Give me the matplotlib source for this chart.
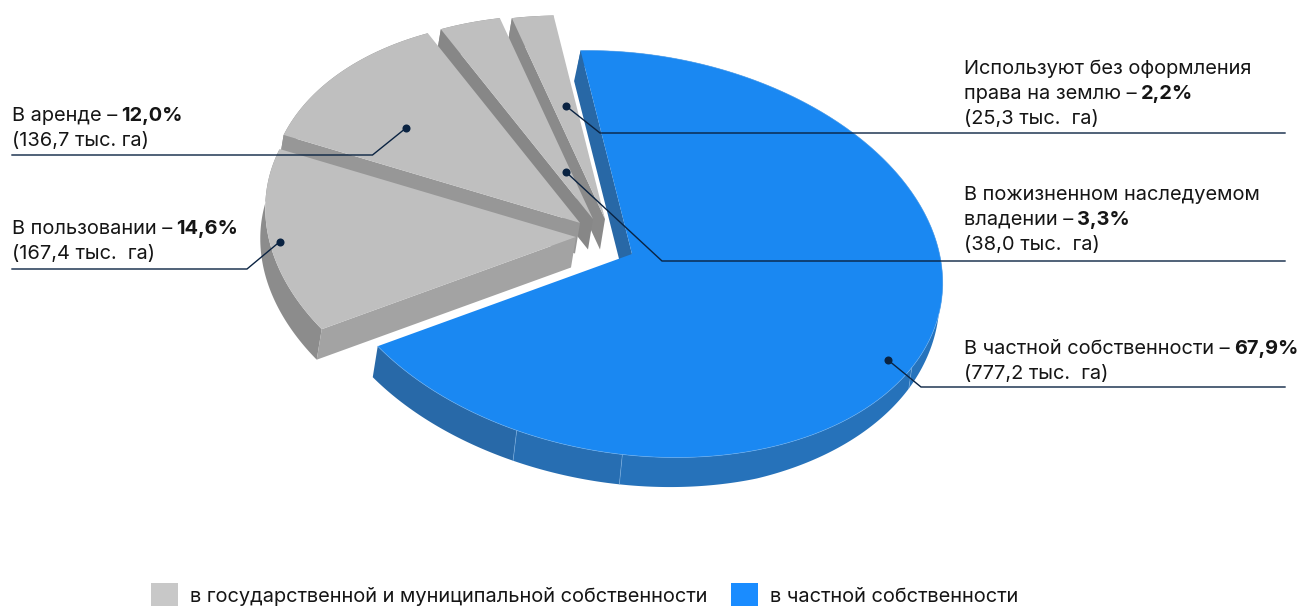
import numpy as np
import matplotlib
matplotlib.use("Agg")
import matplotlib.pyplot as plt
from matplotlib.patches import Polygon, Rectangle

# Shares and areas, clockwise from the top of the private land slice
names = ["В частной собственности", "В пользовании", "В аренде",
         "В пожизненном наследуемом\nвладении", "Используют без оформления\nправа на землю"]
shares = [67.9, 14.6, 12.0, 3.3, 2.2]
areas = [777.2, 167.4, 136.7, 38.0, 25.3]
unit_gaps = ["  ", "  ", " ", "  ", "  "]
legend_labels = ["в государственной и муниципальной собственности", "в частной собственности"]

# Look of the tilted pie, in pixels
center = np.array([632.0, 254.0])
rx, ry = 313.0, 200.0
tilt = np.radians(9.0)
depth = np.array([-5.0, 30.5])
start_angle = -105.3
offsets = [(0, 0), (-56, -17), (-52, -31), (-39, -35), (-27, -35)]
top_colors = ["#1a88f2", "#bfbfbf", "#bfbfbf", "#bfbfbf", "#bfbfbf"]
rim_colors = ["#2673bc", "#8c8c8c", "#8c8c8c", "#8c8c8c", "#8c8c8c"]
side_colors = ["#2868a6", "#a3a3a3", "#979797", "#878787", "#8a8a8a"]
blue_splits = [20, 86, 106]
blue_split_colors = ["#2673bc", "#2672ba", "#276eb2", "#2869a8"]
# the blue wall gets thinner towards the right edge
depth_angles = [0, 20, 60, 90, 140]
depth_x = [-3, -3, -3, -3, -5]
depth_y = [16, 21, 29, 30, 31]

# dot, elbow, end of the leader line for each slice
leaders = [((888, 360), (921, 387), 1285), ((280, 241.5), (247, 269), 12),
           ((406, 128), (372.5, 155), 12), ((566, 172), (662, 261), 1285),
           ((566, 106), (600, 133), 1285)]
label_pos = [(964, 347), (12, 227), (12, 114), (964, 193), (964, 67)]
line_color = "#0a2342"
font = "Inter"
font_px = 20.0
font_size = font_px * 0.72


def rim(angles, offset=(0, 0)):
    t = np.radians(angles)
    x = rx * np.cos(t)
    y = ry * np.sin(t)
    px = center[0] + offset[0] + x * np.cos(tilt) - y * np.sin(tilt)
    py = center[1] + offset[1] + x * np.sin(tilt) + y * np.cos(tilt)
    return np.column_stack([px, py])


def blue_depth(angles):
    return np.column_stack([np.interp(angles, depth_angles, depth_x),
                            np.interp(angles, depth_angles, depth_y)])


fig = plt.figure(figsize=(12.99, 6.06), dpi=100)
ax = fig.add_axes([0, 0, 1, 1])
ax.set_xlim(0, 1299)
ax.set_ylim(606, 0)
ax.axis("off")

spans = np.array(shares) / sum(shares) * 360.0
starts = start_angle + np.concatenate([[0], np.cumsum(spans)[:-1]])

# back slices first, the front gray slice over them, the blue one stands apart
for i in [4, 3, 2, 1, 0]:
    a0, a1 = starts[i], starts[i] + spans[i]
    off = np.array(offsets[i], dtype=float)
    apex = center + off
    side_depth = depth.copy()
    if i == 0:
        side_depth[0] = -6.5
        edges = [a0] + blue_splits + [a1]
        for j in range(len(edges) - 1):
            angs = np.linspace(edges[j], edges[j + 1], 120)
            arc = rim(angs, off)
            low = arc + blue_depth(angs)
            ax.add_patch(Polygon(np.vstack([arc, low[::-1]]), fc=blue_split_colors[j], ec="none"))
        for s in blue_splits:
            p = rim(np.array([s]), off)[0]
            d = blue_depth(np.array([s]))[0]
            ax.plot([p[0], p[0] + d[0]], [p[1], p[1] + d[1]], color="#7fb4e6", lw=0.5, alpha=0.7)
    else:
        arc = rim(np.linspace(a0, a1, 120), off)
        ax.add_patch(Polygon(np.vstack([arc, (arc + depth)[::-1]]), fc=rim_colors[i], ec="none"))
    # wall along the first radius of the slice
    p0 = rim(np.array([a0]), off)[0]
    ax.add_patch(Polygon([p0, p0 + side_depth, apex + side_depth, apex], fc=side_colors[i], ec="none"))
    # top face
    arc = rim(np.linspace(a0, a1, 240), off)
    ax.add_patch(Polygon(np.vstack([apex, arc]), fc=top_colors[i], ec="none"))
    if i == 0:
        ax.plot(arc[:, 0], arc[:, 1], color="#6db0f0", lw=0.5, alpha=0.7)

# leader lines and dots
for (dot, elbow, end) in leaders:
    ax.plot([dot[0], elbow[0], end], [dot[1], elbow[1], elbow[1]], color=line_color, lw=1.0,
            solid_joinstyle="miter")
    ax.plot(dot[0], dot[1], "o", color=line_color, ms=5.8, mew=0)

renderer = fig.canvas.get_renderer()
text_color = "#151515"
for i in range(len(names)):
    x, y = label_pos[i]
    name_lines = names[i].split("\n")
    row = y + 7
    for line in name_lines[:-1]:
        ax.text(x, row, line, fontsize=font_size, family=font, color=text_color, va="baseline")
        row += 25
    head = ax.text(x, row, name_lines[-1] + " – ", fontsize=font_size, family=font, color=text_color,
                   va="baseline")
    head_box = head.get_window_extent(renderer)
    ax.text(head_box.x1 - 1.5, row, f"{shares[i]:.1f}%".replace(".", ","), fontsize=font_size,
            family=font, weight="bold", color=text_color, va="baseline")
    row += 25
    ax.text(x, row, f"({areas[i]:.1f}".replace(".", ",") + f" тыс.{unit_gaps[i]}га)", fontsize=font_size,
            family=font, color=text_color, va="baseline")

# legend
ax.add_patch(Rectangle((151, 583), 27, 23, fc="#c8c8c8", ec="none"))
ax.add_patch(Rectangle((731, 583), 27, 23, fc="#1a8cff", ec="none"))
ax.text(190, 602.5, legend_labels[0], fontsize=font_size, family=font, color=text_color, va="baseline")
ax.text(770, 602.5, legend_labels[1], fontsize=font_size, family=font, color=text_color, va="baseline")

fig.savefig("out.png", dpi=100)
